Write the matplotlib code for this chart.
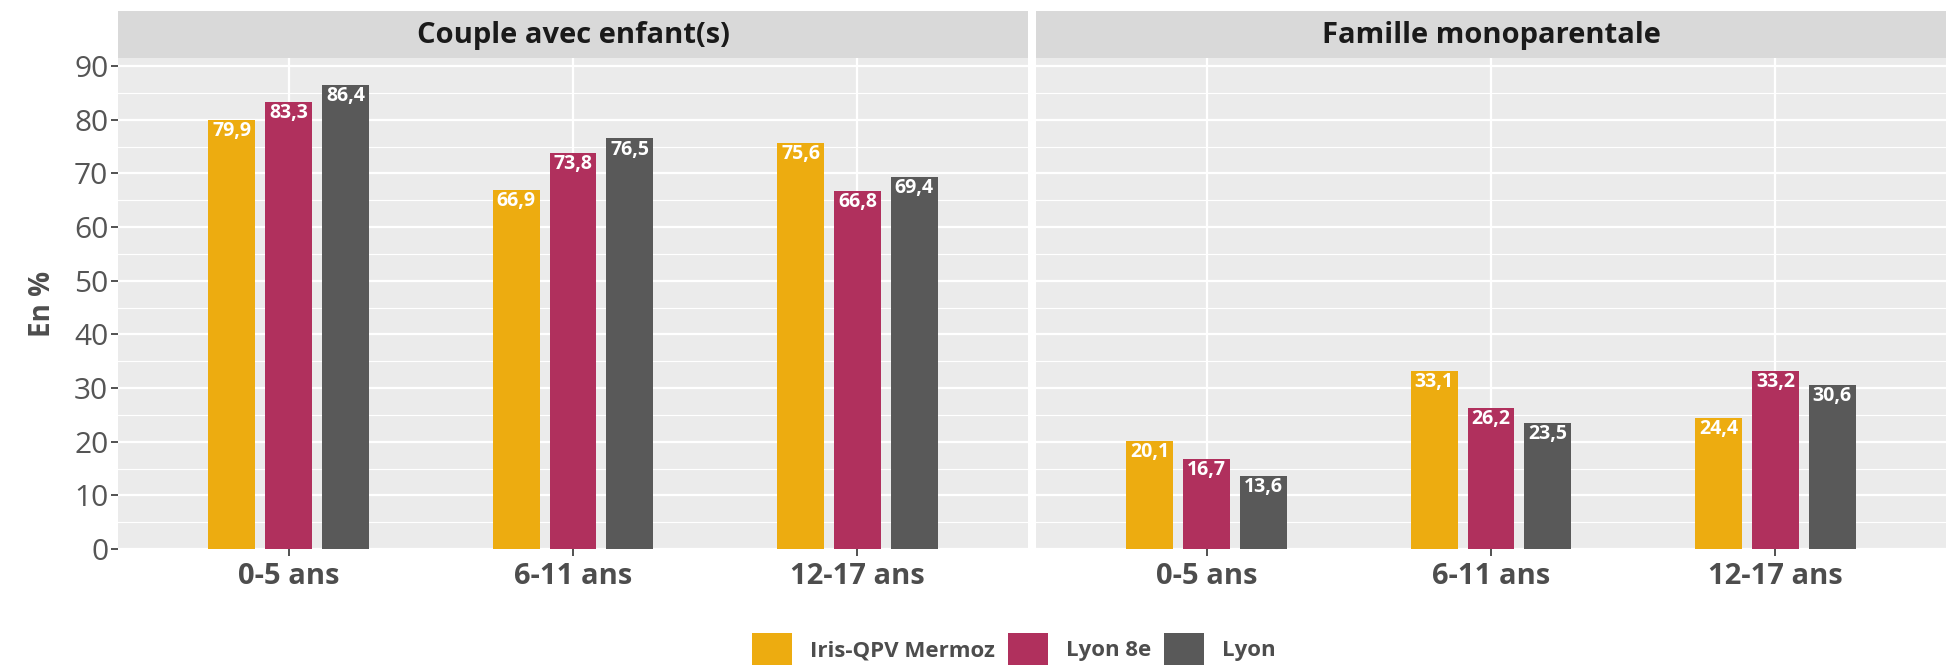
import numpy as np
import matplotlib
matplotlib.use("Agg")
import matplotlib.pyplot as plt
from matplotlib.patches import Patch

plt.rcParams['font.family'] = ['Open Sans', 'DejaVu Sans']

categories = ["0-5 ans", "6-11 ans", "12-17 ans"]
panels = ["Couple avec enfant(s)", "Famille monoparentale"]
series = ["Iris-QPV Mermoz", "Lyon 8e", "Lyon"]
colors = ["#EDAC10", "#B0305D", "#595959"]

couple = {
    "Iris-QPV Mermoz": [79.9, 66.9, 75.6],
    "Lyon 8e": [83.3, 73.8, 66.8],
    "Lyon": [86.4, 76.5, 69.4],
}
mono = {
    "Iris-QPV Mermoz": [20.1, 33.1, 24.4],
    "Lyon 8e": [16.7, 26.2, 33.2],
    "Lyon": [13.6, 23.5, 30.6],
}
panel_data = [couple, mono]

W, H = 1946, 669
fig = plt.figure(figsize=(W / 100, H / 100), dpi=100)

left_x = [118 / W, 1036 / W]
panel_w = [(1028 - 118) / W, (W - 1036) / W]
bottom = 1 - 549 / H
top = 1 - 58 / H
strip_top = 1 - 11 / H

x = np.arange(1, len(categories) + 1)
offsets = [-0.2, 0.0, 0.2]
bw = 0.165
txt_gray = "#4D4D4D"

for p, (name, data) in enumerate(zip(panels, panel_data)):
    ax = fig.add_axes([left_x[p], bottom, panel_w[p], top - bottom])
    ax.set_facecolor("#EBEBEB")
    for s, (ser, col, off) in enumerate(zip(series, colors, offsets)):
        vals = data[ser]
        ax.bar(x + off, vals, width=bw, color=col, zorder=3)
        for xi, v in zip(x + off, vals):
            ax.text(xi, v - 0.2, f"{v:.1f}".replace(".", ","), ha="center", va="top",
                    color="white", fontsize=14, fontweight="bold", zorder=4)
    ax.set_xlim(0.4, 3.6)
    ax.set_ylim(0, 91.5)
    ax.set_yticks(np.arange(0, 91, 10))
    ax.set_yticks(np.arange(5, 91, 10), minor=True)
    ax.set_xticks(x)
    ax.set_xticklabels(categories, fontsize=21, fontweight="bold", color=txt_gray)
    ax.grid(True, which="major", axis="both", color="white", lw=1.6, zorder=0)
    ax.grid(True, which="minor", axis="y", color="white", lw=0.8, zorder=0)
    ax.set_axisbelow(True)
    for sp in ax.spines.values():
        sp.set_visible(False)
    ax.tick_params(axis="x", length=5, width=1.2, color="#333333", pad=4)
    ax.tick_params(axis="y", which="major", length=5, width=1.2, color="#333333",
                   labelsize=21.5, labelcolor="#555555", pad=2)
    ax.tick_params(axis="y", which="minor", length=0)
    if p == 0:
        ax.set_ylabel("En %", fontsize=20, fontweight="bold", color=txt_gray, labelpad=12)
    else:
        ax.set_yticklabels([])
        ax.tick_params(axis="y", length=0)

    sax = fig.add_axes([left_x[p], top, panel_w[p], strip_top - top])
    sax.set_facecolor("#D9D9D9")
    sax.set_xticks([])
    sax.set_yticks([])
    for sp in sax.spines.values():
        sp.set_visible(False)
    sax.text(0.5, 0.47, name, ha="center", va="center", fontsize=21,
             fontweight="bold", color="#1A1A1A", transform=sax.transAxes)

handles = [Patch(facecolor=c, edgecolor="none", label=s) for s, c in zip(series, colors)]
fig.legend(handles=handles, loc="center", bbox_to_anchor=(0.521, 1 - 649 / H), ncol=3,
           frameon=False, prop={"weight": "bold", "size": 16},
           handlelength=1.8, handleheight=1.8, handletextpad=0.8, columnspacing=0.6,
           labelcolor=txt_gray)

fig.savefig("out.png", dpi=100)
